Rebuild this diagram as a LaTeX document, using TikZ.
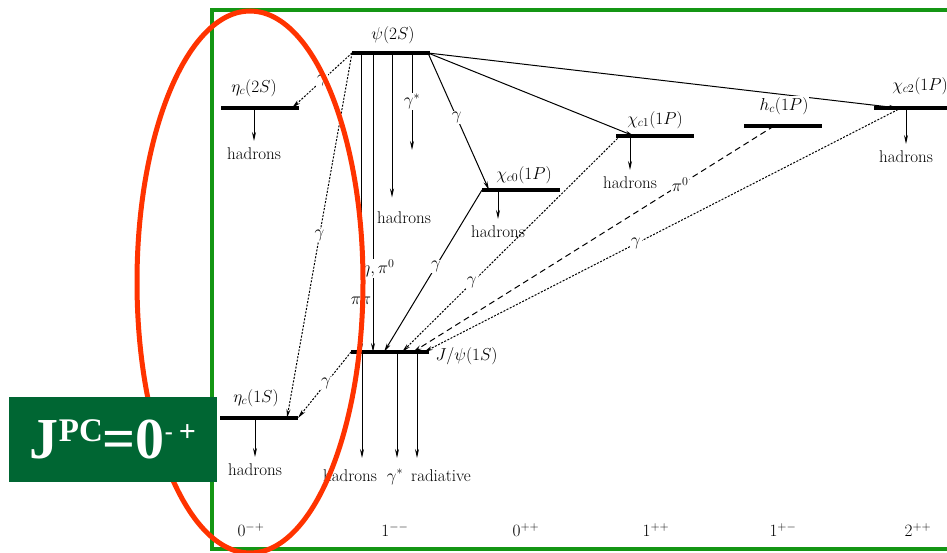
\documentclass[tikz,border=0pt]{standalone}
\usepackage{amsmath}
\usepackage{fontspec}
\newfontfamily\jpcfont{Liberation Serif}
\usepackage{tikz}
\usetikzlibrary{positioning,arrows.meta}
\definecolor{framegreen}{RGB}{20,150,20}
\definecolor{ellred}{RGB}{255,51,0}
\definecolor{boxgreen}{RGB}{0,102,51}
\tikzset{
  lvl/.style={line width=4pt},
  tr/.style={line width=1pt,-{Stealth[length=9pt,width=4pt]}},
  dotline/.style={tr,dash pattern=on 2pt off 1.5pt},
  dashline/.style={tr,dash pattern=on 6pt off 4pt},
  lab/.style={fill=white,inner sep=1pt}
}

\begin{document}
\begin{tikzpicture}[x=1pt,y=-1pt,font=\fontsize{17}{20}\selectfont]
    \useasboundingbox (0,0) rectangle (947,553);
    \draw[framegreen,line width=4.5pt] (950,10) -- (212,10) -- (212,549) -- (950,549);

    \coordinate (psi) at (352,53);
    \coordinate (etaII) at (221,108);
    \coordinate (chi0) at (482,190);
    \coordinate (chi1) at (616,136);
    \coordinate (hc) at (744,126);
    \coordinate (chi2) at (874,108);
    \coordinate (jpsi) at (351,352);
    \coordinate (etaI) at (220,418);
    \foreach \lv in {psi,etaII,chi0,chi1,hc,chi2,jpsi,etaI}
        \draw[lvl] (\lv) -- ++(78,0);

    \foreach \lv/\dx/\dy in {etaII/33/36,etaI/35/42,chi0/16/32,chi1/14/37,chi2/32/39}{
        \coordinate (\lv h) at ([xshift=\dx pt]\lv);
        \node[below=\dy pt of \lv h] (\lv had) {hadrons};
        \draw[tr,shorten >=3pt] (\lv h) -- (\lv had);
    }

    \coordinate (psih) at ([xshift=40pt]psi);
    \node (psihad) at (404,218) {hadrons};
    \draw[tr,shorten >=11pt] (psih) -- (psih |- psihad.north);
    \coordinate (psig) at ([xshift=60pt]psi);
    \coordinate (psigend) at ([yshift=-97pt]psig);
    \draw[tr] (psig) -- (psigend) node[lab,pos=.5] (gs) {$\gamma^*$};
    \draw[tr] ([xshift=9pt]psi) -- ([xshift=10pt]jpsi) node[lab,pos=.83] (pp) {$\pi\pi$};
    \draw[tr] ([xshift=21pt]psi) -- ([xshift=22pt]jpsi) node[lab,pos=.72,xshift=5pt] (ep) {$\eta,\pi^0$};

    \draw[dotline] (psi) -- ([xshift=71pt]etaII) node[lab,pos=.5] (g1) {$\gamma$};
    \draw[dotline] (psi) -- ([xshift=67pt]etaI) node[lab,pos=.5] (g2) {$\gamma$};
    \draw[tr] ([xshift=76pt]psi) -- ([xshift=7pt]chi0) node[lab,pos=.47] (g3) {$\gamma$};
    \draw[tr] ([xshift=76pt]psi) -- ([xshift=18pt]chi1);
    \draw[tr] ([xshift=76pt]psi) -- ([xshift=24pt]chi2);
    \draw[tr] (chi0) -- ([xshift=33pt]jpsi) node[lab,pos=.47] (g4) {$\gamma$};
    \draw[dotline] ([xshift=4pt]chi1) -- ([xshift=51pt]jpsi) node[lab,pos=.68] (g5) {$\gamma$};
    \draw[dashline] ([xshift=30pt]hc) -- ([xshift=62pt]jpsi) node[lab,pos=.26] (pz) {$\pi^0$};
    \draw[dotline] ([xshift=27pt]chi2) -- ([xshift=73pt]jpsi) node[lab,pos=.556] (g6) {$\gamma$};
    \draw[dotline] (jpsi) -- ([xshift=78pt]etaI) node[lab,pos=.47] (g7) {$\gamma$};

    \coordinate (jend) at (0,458);
    \foreach \dx/\nm/\txt/\lx in {11/jh/hadrons/350,46/jg/$\gamma^*$/395,66/jr/radiative/441}{
        \coordinate (\nm) at ([xshift=\dx pt]jpsi);
        \node[anchor=base] (\nm L) at (\lx,481) {\txt};
        \draw[tr] (\nm) -- (\nm |- jend);
    }

    \node (psiL) at (393,35) {$\psi(2S)$};
    \node (etaIIL) at (254,88) {$\eta_c(2S)$};
    \node (chi0L) at (524,175) {$\chi_{c0}(1P)$};
    \node (chi1L) at (655,120) {$\chi_{c1}(1P)$};
    \node[lab] (hcL) at (784,106) {$h_c(1P)$};
    \node (chi2L) at (920,86) {$\chi_{c2}(1P)$};
    \node[anchor=west] (jpsiL) at (432,356) {$J/\psi(1S)$};
    \node (etaIL) at (256,398) {$\eta_c(1S)$};

    \foreach \x/\jpc [count=\i] in {251/0^{-+},395/1^{--},526/0^{++},656/1^{++},783/1^{+-},918/2^{++}}
        \node (jpc\i) at (\x,530) {$\jpc$};

    \draw[ellred,line width=5pt] (250,282) ellipse [x radius=113pt,y radius=271pt];
    \node[fill=boxgreen,minimum width=208pt,minimum height=85pt,inner sep=0pt,text=white,
        font=\jpcfont\bfseries\fontsize{58}{58}\selectfont] (jpcbox) at (113,439.5)
        {J\raisebox{17pt}{\fontsize{33}{33}\selectfont PC}=0\raisebox{19pt}{\fontsize{24}{24}\selectfont -}\hspace{6pt}\raisebox{17pt}{\fontsize{30}{30}\selectfont +}};
\end{tikzpicture}
\end{document}
